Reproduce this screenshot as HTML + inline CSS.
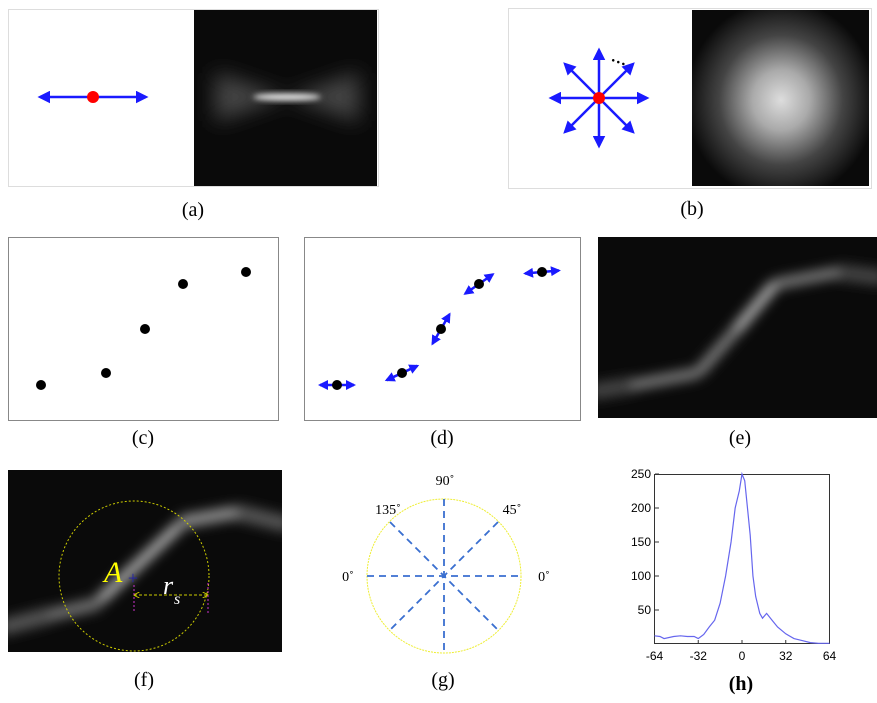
<!DOCTYPE html>
<html><head><meta charset="utf-8"><style>
html,body{margin:0;padding:0;background:#fff;}
svg{display:block;font-family:"Liberation Serif",serif;}
</style></head><body>
<svg id="fig" width="877" height="703" viewBox="0 0 877 703" xmlns="http://www.w3.org/2000/svg">
<defs>
<filter id="b3" x="-50%" y="-50%" width="200%" height="200%"><feGaussianBlur stdDeviation="3"/></filter>
<filter id="b6" x="-50%" y="-50%" width="200%" height="200%"><feGaussianBlur stdDeviation="6"/></filter>
<filter id="b10" x="-50%" y="-50%" width="200%" height="200%"><feGaussianBlur stdDeviation="10"/></filter>
<radialGradient id="rg"><stop offset="0" stop-color="#ddd"/><stop offset="0.3" stop-color="#aaa"/><stop offset="0.65" stop-color="#444"/><stop offset="1" stop-color="#0a0a0a"/></radialGradient>
<clipPath id="ca"><rect x="194" y="10" width="183" height="176"/></clipPath>
<clipPath id="cb"><rect x="692" y="10" width="177" height="176"/></clipPath>
<clipPath id="ce"><rect x="598" y="237" width="279" height="181"/></clipPath>
<clipPath id="cf"><rect x="8" y="470" width="274" height="182"/></clipPath>
<marker id="ah" viewBox="0 0 10 10" refX="8" refY="5" markerWidth="4" markerHeight="4" orient="auto-start-reverse"><path d="M0,0L10,5L0,10z" fill="#1a1aff"/></marker>
<marker id="ah2" viewBox="0 0 10 10" refX="8" refY="5" markerWidth="5" markerHeight="5" orient="auto-start-reverse"><path d="M0,0L10,5L0,10z" fill="#1a1aff"/></marker>
<marker id="ya" viewBox="0 0 10 10" refX="9" refY="5" markerWidth="6" markerHeight="6" orient="auto-start-reverse"><path d="M0,0L10,5L0,10" fill="none" stroke="#cc0" stroke-width="1.5"/></marker>
</defs>

<!-- (a) -->
<g>
<rect x="8.5" y="9.5" width="370" height="177" fill="none" stroke="#bbb" stroke-dasharray="1,1"/>
<line x1="40" y1="97" x2="146" y2="97" stroke="#1a1aff" stroke-width="2.5" marker-start="url(#ah2)" marker-end="url(#ah2)"/>
<circle cx="93" cy="97" r="6" fill="#f00"/>
<rect x="194" y="10" width="183" height="176" fill="#0a0a0a"/>
<g clip-path="url(#ca)"><g filter="url(#b10)"><polygon points="287,97 215,72 215,122" fill="#444"/><polygon points="287,97 359,72 359,122" fill="#444"/></g>
<g filter="url(#b3)"><ellipse cx="287" cy="97" rx="34" ry="4" fill="#ddd"/></g></g>
<text x="193" y="216" font-size="20" text-anchor="middle">(a)</text>
</g>

<!-- (b) -->
<g>
<rect x="508.5" y="8.5" width="363" height="180" fill="none" stroke="#bbb" stroke-dasharray="1,1"/>
<g stroke="#1a1aff" stroke-width="2.5">
<line x1="599" y1="98" x2="647" y2="98" marker-end="url(#ah2)"/>
<line x1="599" y1="98" x2="551" y2="98" marker-end="url(#ah2)"/>
<line x1="599" y1="98" x2="599" y2="50" marker-end="url(#ah2)"/>
<line x1="599" y1="98" x2="599" y2="146" marker-end="url(#ah2)"/>
<line x1="599" y1="98" x2="633" y2="64" marker-end="url(#ah2)"/>
<line x1="599" y1="98" x2="565" y2="64" marker-end="url(#ah2)"/>
<line x1="599" y1="98" x2="633" y2="132" marker-end="url(#ah2)"/>
<line x1="599" y1="98" x2="565" y2="132" marker-end="url(#ah2)"/>
</g>
<circle cx="599" cy="98" r="6" fill="#f00"/>
<text x="611" y="63" font-size="16" font-weight="bold" transform="rotate(20 618 60)">…</text>
<rect x="692" y="10" width="177" height="176" fill="#0a0a0a"/>
<g clip-path="url(#cb)"><ellipse cx="781" cy="100" rx="95" ry="100" fill="url(#rg)"/></g>
<text x="692" y="215" font-size="20" text-anchor="middle">(b)</text>
</g>

<!-- (c) -->
<g>
<rect x="8.5" y="237.5" width="270" height="183" fill="none" stroke="#888"/>
<g id="cpts"></g>
<text x="143" y="444" font-size="20" text-anchor="middle">(c)</text>
</g>
<!-- (d) -->
<g>
<rect x="304.5" y="237.5" width="276" height="183" fill="none" stroke="#888"/>
<g id="dpts"></g>
<text x="442" y="444" font-size="20" text-anchor="middle">(d)</text>
</g>
<!-- (e) -->
<g>
<rect x="598" y="237" width="279" height="181" fill="#0a0a0a"/>
<g clip-path="url(#ce)"><g id="eglow" filter="url(#b6)"></g></g>
<text x="740" y="444" font-size="20" text-anchor="middle">(e)</text>
</g>
<!-- (f) -->
<g>
<rect x="8" y="470" width="274" height="182" fill="#0a0a0a"/>
<g clip-path="url(#cf)"><g filter="url(#b6)">
<line x1="0" y1="628" x2="50" y2="615" stroke="#555" stroke-width="16"/>
<line x1="50" y1="615" x2="100" y2="603" stroke="#777" stroke-width="12"/>
<line x1="100" y1="600" x2="180" y2="525" stroke="#bbb" stroke-width="10"/>
<line x1="180" y1="522" x2="237" y2="512" stroke="#999" stroke-width="12"/>
<line x1="237" y1="512" x2="290" y2="525" stroke="#555" stroke-width="16"/>
</g></g>
<circle cx="134" cy="576" r="75" fill="none" stroke="#cc0" stroke-dasharray="2,2"/>
<line x1="134" y1="595" x2="208" y2="595" stroke="#cc0" stroke-dasharray="3,2" marker-start="url(#ya)" marker-end="url(#ya)"/>
<line x1="134" y1="585" x2="134" y2="613" stroke="#c3c" stroke-dasharray="2,2"/>
<line x1="208" y1="583" x2="208" y2="613" stroke="#c3c" stroke-dasharray="2,2"/>
<text x="104" y="582" font-size="30" font-style="italic" fill="#ff0">A</text>
<text x="133" y="584" font-size="18" fill="#22a" text-anchor="middle">+</text>
<text x="163" y="594" font-size="26" font-style="italic" fill="#fff">r</text><text x="174" y="604" font-size="16" font-style="italic" fill="#fff">s</text>
<text x="144" y="686" font-size="20" text-anchor="middle">(f)</text>
</g>
<!-- (g) -->
<g>
<circle cx="444" cy="576" r="77" fill="none" stroke="#ee3" stroke-dasharray="2,1"/>
<g stroke="#3a6fd0" stroke-width="1.8" stroke-dasharray="7,5">
<line x1="367" y1="576" x2="521" y2="576"/><line x1="444" y1="499" x2="444" y2="653"/>
<line x1="390" y1="522" x2="498" y2="630"/><line x1="498" y1="522" x2="390" y2="630"/>
</g>
<g font-size="14" text-anchor="middle">
<text x="445" y="485">90˚</text><text x="388" y="514">135˚</text><text x="512" y="514">45˚</text>
<text x="348" y="581">0˚</text><text x="544" y="581">0˚</text></g>
<text x="443" y="686" font-size="20" text-anchor="middle">(g)</text>
</g>
<!-- (h) -->
<g id="hchart">
<rect x="654.5" y="474.5" width="175" height="169" fill="none" stroke="#333"/>
<g id="hticks" font-family="Liberation Sans, sans-serif" font-size="12"></g>
<polyline id="hline" fill="none" stroke="#6666ee" stroke-width="1.2"/>
<text x="741" y="690" font-size="20" font-weight="bold" text-anchor="middle">(h)</text>
</g>
</svg>
<script>
// panel (c)/(d) point data
const ptX = [41, 106, 145, 183, 246];
const ptY = [385, 373, 329, 284, 272];
const ptAng = [0, -25, -60, -35, -5];
// panel (h) data
const hX = [-64,-60,-57,-50,-45,-40,-35,-32,-28,-24,-20,-16,-12,-8,-5,-2,0,2,4,6,8,10,13,15,18,22,26,32,38,44,50,56,64];
const hY = [12,11,8,11,12,11,11,8,14,25,35,60,100,150,200,225,250,240,200,160,100,70,45,38,45,35,25,15,8,5,2,1,1];
const hXTicks = [-64,-32,0,32,64];
const hYTicks = [50,100,150,200,250];

const NS = "http://www.w3.org/2000/svg";
function mk(tag, attrs, parent){const e=document.createElementNS(NS,tag);for(const k in attrs)e.setAttribute(k,attrs[k]);parent.appendChild(e);return e;}
const cg=document.getElementById('cpts'), dg=document.getElementById('dpts'), eg=document.getElementById('eglow');
const EO=592;
ptX.forEach((x,i)=>{
  const c=mk('circle',{cx:x,cy:ptY[i],r:5,fill:'#000'},cg);
  
  
  const dx=x+296, a=ptAng[i]*Math.PI/180, L=17;
  const l=mk('line',{x1:dx-L*Math.cos(a),y1:ptY[i]-L*Math.sin(a),x2:dx+L*Math.cos(a),y2:ptY[i]+L*Math.sin(a),stroke:'#1a1aff','stroke-width':2.5,'marker-start':'url(#ah)','marker-end':'url(#ah)'},dg);
  
  
  const d=mk('circle',{cx:dx,cy:ptY[i],r:5,fill:'#000'},dg);
  
  
  if(i<ptX.length-1){
    const s=mk('line',{x1:x+EO,y1:ptY[i],x2:ptX[i+1]+EO,y2:ptY[i+1],stroke:i==2?'#bbb':'#888','stroke-width':10},eg);
    
    
  }
});
mk('line',{x1:590,y1:392,x2:ptX[0]+EO,y2:ptY[0],stroke:'#444','stroke-width':16},eg);
mk('line',{x1:ptX[4]+EO,y1:ptY[4],x2:885,y2:278,stroke:'#444','stroke-width':16},eg);

const sx=v=>654.5+(v+64)/128*175, sy=v=>644-v*(170/250);
document.getElementById('hline').setAttribute('points',hX.map((x,i)=>sx(x)+','+sy(hY[i])).join(' '));
const tg=document.getElementById('hticks');
hXTicks.forEach(t=>{
  mk('line',{x1:sx(t),y1:644,x2:sx(t),y2:640,stroke:'#333'},tg);
  const tx=mk('text',{x:sx(t),y:660,'text-anchor':'middle'},tg);tx.textContent=t;
  
  
});
hYTicks.forEach(t=>{
  mk('line',{x1:655,y1:sy(t),x2:659,y2:sy(t),stroke:'#333'},tg);
  const ty=mk('text',{x:651,y:sy(t)+4,'text-anchor':'end'},tg);ty.textContent=t;
  
  
});
</script>
</body></html>
